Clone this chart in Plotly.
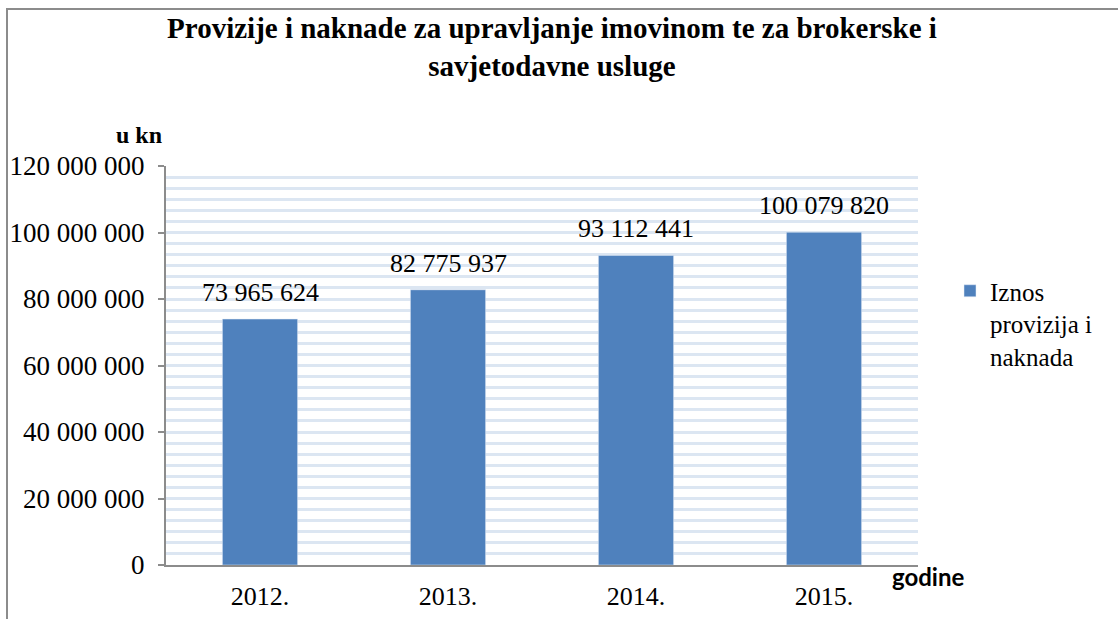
import plotly.graph_objects as go

years = ["2012.", "2013.", "2014.", "2015."]
values = [73965624, 82775937, 93112441, 100079820]
value_labels = ["73 965 624", "82 775 937", "93 112 441", "100 079 820"]
tick_vals = [0, 20000000, 40000000, 60000000, 80000000, 100000000, 120000000]
tick_text = ["0", "20 000 000", "40 000 000", "60 000 000", "80 000 000", "100 000 000", "120 000 000"]

W, H = 1118, 619
L, R, T, B = 166, 200, 166, 54
pw, ph = W - L - R, H - T - B

def px(x):
    return (x - L) / pw

def py(y):
    return 1 - (y - T) / ph

serif = "Liberation Serif"

fig = go.Figure()
fig.add_trace(go.Bar(
    x=years, y=values, name="Iznos<br>provizija i<br>naknada",
    marker_color="#4f81bd",
))

annotations = [
    dict(text="<b>u kn</b>", xref="paper", yref="paper", x=px(139), y=py(135),
         xanchor="center", yanchor="middle", showarrow=False,
         font=dict(family=serif, size=24, color="#000")),
    dict(text="<b>godine</b>", xref="paper", yref="paper", x=px(928), y=py(576),
         xanchor="center", yanchor="middle", showarrow=False,
         font=dict(family="Lato", size=24, color="#000")),
]
for i, (v, lab) in enumerate(zip(values, value_labels)):
    annotations.append(dict(text=lab, x=i, y=v, xref="x", yref="y",
                            xanchor="center", yanchor="bottom", yshift=10,
                            showarrow=False,
                            font=dict(family=serif, size=26, color="#000")))

fig.update_layout(
    width=W, height=H,
    margin=dict(l=L, r=R, t=T, b=B, autoexpand=False),
    paper_bgcolor="white", plot_bgcolor="white",
    bargap=0.6,
    font=dict(family=serif, size=25, color="#000"),
    title=dict(text="<b>Provizije i naknade za upravljanje imovinom te za brokerske i<br>savjetodavne usluge</b>",
               x=552 / W, xanchor="center", y=1 - 38 / H, yanchor="middle",
               font=dict(family=serif, size=29, color="#000")),
    showlegend=True,
    legend=dict(x=px(950), y=py(268), xanchor="left", yanchor="top",
                font=dict(family=serif, size=25, color="#000"), valign="top",
                bgcolor="rgba(0,0,0,0)"),
    xaxis=dict(type="category", showline=True, linecolor="#8c8c8c", linewidth=2, ticks="",
               ticklabelstandoff=7, automargin=False,
               tickfont=dict(family=serif, size=26)),
    yaxis=dict(range=[0, 120000000], tickvals=tick_vals, ticktext=tick_text,
               showline=True, linecolor="#8c8c8c", linewidth=2,
               ticks="outside", ticklen=6, tickcolor="#8c8c8c", tickwidth=2,
               ticklabelstandoff=8, automargin=False,
               showgrid=True, gridcolor="#dce6f2", gridwidth=3,
               minor=dict(dtick=20000000 / 6, showgrid=True, gridcolor="#dce6f2", gridwidth=3),
               tickfont=dict(family=serif, size=27), zeroline=False),
    shapes=[
        dict(type="path", xref="paper", yref="paper",
             path=f"M {px(7)},{py(640)} L {px(7)},{py(9)} L {px(1140)},{py(9)}",
             line=dict(color="#8c8c8c", width=2)),
    ],
    annotations=annotations,
)

fig.write_html("out.html", config={"displayModeBar": False},
               post_script="document.body.style.margin='0px';")
